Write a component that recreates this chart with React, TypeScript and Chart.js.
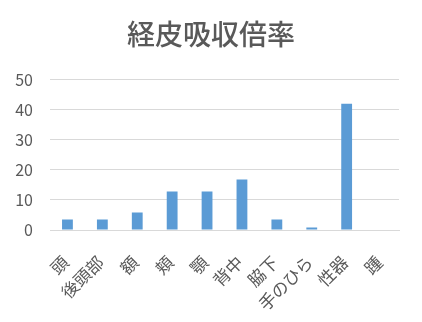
import React, { useEffect, useRef } from "react";
import { Chart, registerables } from "chart.js";

Chart.register(...registerables);

const titleText = "経皮吸収倍率";
const categories = ["頭", "後頭部", "額", "頬", "顎", "背中", "脇下", "手のひら", "性器", "踵"];
const values = [3.5, 3.5, 5.8, 12.8, 12.8, 16.8, 3.5, 0.83, 42, 0.14];
const yTicks = [0, 10, 20, 30, 40, 50];

const FONT = "'Noto Sans CJK JP', 'Noto Sans', sans-serif";
const TEXT = "#595959";
const GRID = "#d9d9d9";
const BAR = "#5b9bd5";

export default function App() {
  const canvasRef = useRef<HTMLCanvasElement | null>(null);

  useEffect(() => {
    document.body.style.margin = "0";
    const canvas = canvasRef.current;
    if (!canvas) return;
    const chart = new Chart(canvas, {
      type: "bar",
      data: {
        labels: categories,
        datasets: [
          {
            data: values,
            backgroundColor: BAR,
            borderWidth: 0,
            categoryPercentage: 1,
            barPercentage: 0.31,
          },
        ],
      },
      options: {
        animation: false,
        responsive: false,
        maintainAspectRatio: false,
        layout: { padding: 0 },
        plugins: {
          legend: { display: false },
          tooltip: { enabled: false },
          title: {
            display: true,
            text: titleText,
            color: TEXT,
            font: { family: FONT, size: 28, weight: "500", lineHeight: 1.2 },
            padding: { top: 18, bottom: 28 },
          },
        },
        scales: {
          x: {
            grid: { display: false, drawTicks: false },
            border: { display: true, color: GRID, width: 1 },
            ticks: {
              color: TEXT,
              font: { family: FONT, size: 17 },
              maxRotation: 45,
              minRotation: 45,
              autoSkip: false,
              padding: 22,
              labelOffset: -2,
            },
            afterFit: (scale: any) => {
              scale.height = 92;
            },
          },
          y: {
            min: 0,
            max: 50,
            afterBuildTicks: (scale: any) => {
              scale.ticks = yTicks.map((v) => ({ value: v }));
            },
            grid: { color: GRID, lineWidth: 1, drawTicks: false },
            border: { display: false },
            ticks: {
              color: TEXT,
              font: { family: FONT, size: 16 },
              padding: 17,
            },
            afterFit: (scale: any) => {
              scale.width = 50;
            },
          },
          // empty right-hand gutter so the title stays centred on the canvas
          yRight: {
            position: "right",
            grid: { display: false, drawTicks: false },
            border: { display: false },
            ticks: { display: false },
            afterFit: (scale: any) => {
              scale.width = 23;
            },
          },
        },
      },
    });
    return () => chart.destroy();
  }, []);

  return (
    <div style={{ position: "relative", width: 422, height: 322, background: "#fff" }}>
      <canvas ref={canvasRef} width={422} height={322} />
    </div>
  );
}
